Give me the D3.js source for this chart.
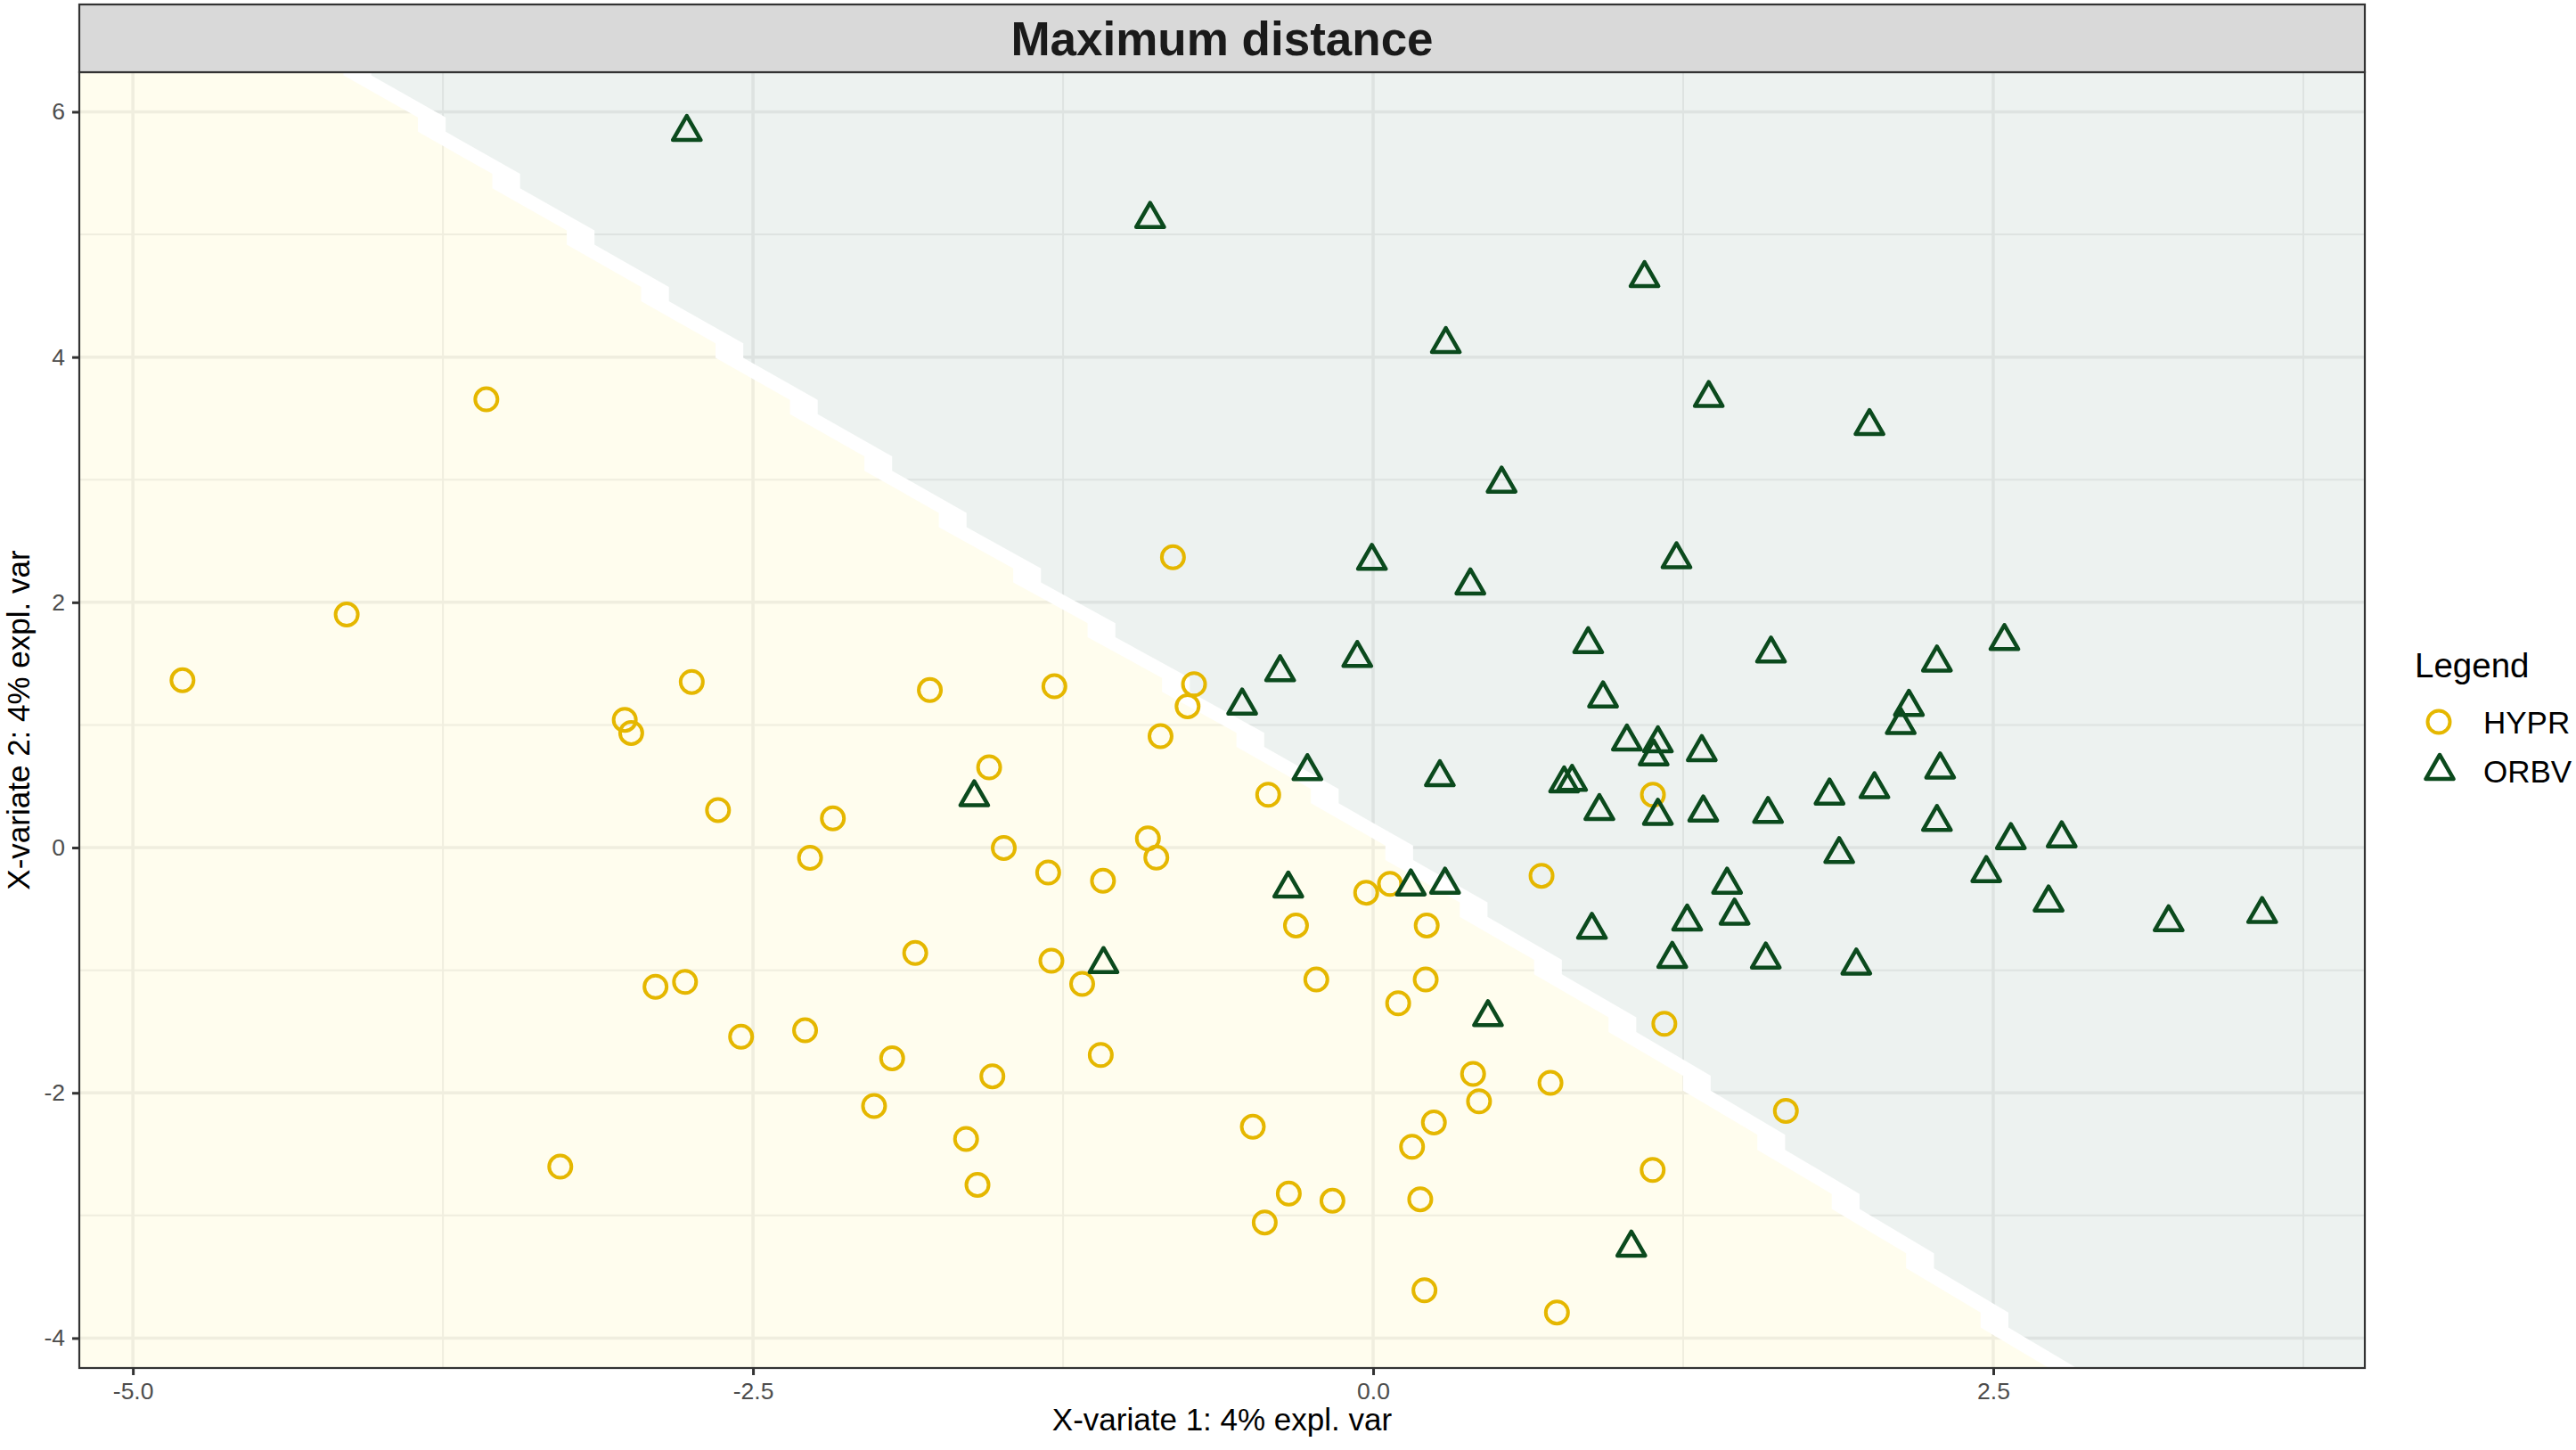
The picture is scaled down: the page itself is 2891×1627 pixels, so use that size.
<!DOCTYPE html>
<html lang="en">
<head>
<meta charset="UTF-8">
<title>Maximum distance</title>
<style>
    body { margin: 0; background: white; }
    svg { display: block; font-family: "Liberation Sans", Arial, Helvetica, sans-serif; }
</style>
<script src="https://d3js.org/d3.v7.min.js"></script>
</head>
<body>
<div id="chart"></div>
<script>
// ---- data ----
const hyprX = [-4.800, -4.138, -3.575, -3.277, -3.017, -2.991, -2.747, -2.893, -2.774, -2.641,
               -2.548, -2.290, -2.270, -2.178, -2.012, -1.939, -1.846, -1.787, -1.641, -1.595,
               -1.548, -1.535, -1.489, -1.297, -1.310, -1.285, -1.173, -1.098, -1.089, -0.908,
               -0.874, -0.857, -0.807, -0.748, -0.722, -0.485, -0.437, -0.423, -0.340, -0.311,
               -0.229, -0.164, -0.028, 0.068, 0.101, 0.157, 0.190, 0.207, 0.216, 0.212,
               0.245, 0.403, 0.427, 0.679, 0.715, 0.741, 1.128, 1.127, 1.174, 1.664];
const hyprY = [1.364, 1.900, 3.655, -2.602, 1.042, 0.935, 1.351, -1.135, -1.095, 0.306,
               -1.543, -1.490, -0.083, 0.238, -2.107, -1.718, -0.860, 1.284, -2.376, -2.750,
               0.654, -1.865, -0.003, -0.923, -0.204, 1.315, -1.112, -1.691, -0.271, 0.075,
               -0.082, 0.908, 2.368, 1.153, 1.332, -2.277, -3.057, 0.431, -2.822, -0.635,
               -1.076, -2.880, -0.368, -0.296, -1.270, -2.440, -2.868, -3.610, -0.635, -1.076,
               -2.241, -1.846, -2.069, -0.230, -1.919, -3.791, 0.431, -2.629, -1.437, -2.147];

const orbvX = [-2.767, -1.608, -1.087, -0.899, -0.528, -0.375, -0.342, -0.265, -0.064, -0.005,
               0.152, 0.269, 0.290, 0.293, 0.392, 0.463, 0.518, 0.770, 0.802, 0.867,
               0.882, 0.927, 0.912, 1.023, 1.041, 1.094, 1.131, 1.148, 1.148, 1.206,
               1.223, 1.266, 1.325, 1.331, 1.353, 1.427, 1.457, 1.583, 1.592, 1.604,
               1.840, 1.879, 1.948, 2.001, 2.021, 2.127, 2.160, 2.273, 2.273, 2.286,
               2.472, 2.545, 2.571, 2.723, 2.776, 3.207, 3.584];
const orbvY = [5.836, 0.410, -0.950, 5.126, 1.158, 1.430, -0.334, 0.623, 1.546, 2.338,
               -0.317, 0.574, -0.303, 4.106, 2.137, -1.383, 2.968, 0.523, 0.536, 1.659,
               -0.671, 1.216, 0.298, 0.865, -3.262, 4.644, 0.743, 0.850, 0.259, -0.908,
               2.351, -0.603, 0.778, 0.286, 3.666, -0.303, -0.555, -0.913, 0.274, 1.582,
               0.424, -0.053, -0.962, 3.437, 0.476, 0.999, 1.147, 1.509, 0.209, 0.637,
               -0.208, 1.684, 0.061, -0.448, 0.075, -0.609, -0.542];

// centre line of the predicted-class boundary (white band)
const boundaryX = [-4.073, -1.584, -0.460, 0.356, 1.146, 2.762];
const boundaryY = [6.323, 2.500, 0.828, -0.429, -1.664, -4.266];

const xDomain = [-5.216, 3.998];
const yDomain = [-4.244, 6.323];
const xTicks = [-5, -2.5, 0, 2.5];
const yTicks = [-4, -2, 0, 2, 4, 6];
const xMinor = [-3.75, -1.25, 1.25, 3.75];
const yMinor = [-3, -1, 1, 3, 5];

const groups = ["HYPR", "ORBV"];
const groupColors = ["#E5B700", "#0B4A1D"];

// ---- layout ----
const W = 2891, H = 1627;
const panel = { left: 89, right: 2654, top: 81, bottom: 1535 };
const stripTop = 5;

const svg = d3.select("#chart").append("svg")
    .attr("width", W)
    .attr("height", H);

const x = d3.scaleLinear().domain(xDomain).range([panel.left, panel.right]);
const y = d3.scaleLinear().domain(yDomain).range([panel.bottom, panel.top]);

svg.append("defs").append("clipPath").attr("id", "panelClip")
    .append("rect")
    .attr("x", panel.left).attr("y", panel.top)
    .attr("width", panel.right - panel.left)
    .attr("height", panel.bottom - panel.top);

const plot = svg.append("g").attr("clip-path", "url(#panelClip)");

// grid
plot.append("g").selectAll("line.vmin").data(xMinor).enter().append("line")
    .attr("x1", d => x(d)).attr("x2", d => x(d))
    .attr("y1", panel.top).attr("y2", panel.bottom)
    .attr("stroke", "#EBEBEB").attr("stroke-width", 2);
plot.append("g").selectAll("line.hmin").data(yMinor).enter().append("line")
    .attr("y1", d => y(d)).attr("y2", d => y(d))
    .attr("x1", panel.left).attr("x2", panel.right)
    .attr("stroke", "#EBEBEB").attr("stroke-width", 2);
plot.append("g").selectAll("line.vmaj").data(xTicks).enter().append("line")
    .attr("x1", d => x(d)).attr("x2", d => x(d))
    .attr("y1", panel.top).attr("y2", panel.bottom)
    .attr("stroke", "#EBEBEB").attr("stroke-width", 3.5);
plot.append("g").selectAll("line.hmaj").data(yTicks).enter().append("line")
    .attr("y1", d => y(d)).attr("y2", d => y(d))
    .attr("x1", panel.left).attr("x2", panel.right)
    .attr("stroke", "#EBEBEB").attr("stroke-width", 3.5);

// background prediction areas, stair-stepped like the grid they come from
const f = d3.scaleLinear().domain(boundaryX).range(boundaryY);
const stepW = 0.3, stepPhase = -3.795, stepRatio = 0.746, halfGap = 0.056;

function stairs(shift) {
    const pts = [];
    const k0 = Math.floor((xDomain[0] - 1 - stepPhase) / stepW);
    const k1 = Math.ceil((xDomain[1] + 1 - stepPhase) / stepW);
    for (let k = k0; k < k1; k++) {
        const a = stepPhase + k * stepW, b = a + stepW;
        const fa = f(a), fb = f(b);
        const off = -(1 - stepRatio) * (fa - fb) / 2;
        pts.push([a + shift, fa + off]);
        pts.push([b + shift, fa + stepRatio * (fb - fa) + off]);
    }
    return pts;
}

const yellowEdge = stairs(-halfGap);
const grayEdge = stairs(halfGap);
const lowY = yDomain[0] - 2, highY = yDomain[1] + 2;

const yellowPoly = yellowEdge.concat([[yellowEdge[yellowEdge.length - 1][0], lowY], [yellowEdge[0][0], lowY]]);
const grayPoly = grayEdge.concat([[grayEdge[grayEdge.length - 1][0], highY], [grayEdge[0][0], highY]]);
const bandPoly = yellowEdge.concat(grayEdge.slice().reverse());

const toPath = pts => "M" + pts.map(p => x(p[0]) + "," + y(p[1])).join("L") + "Z";

plot.append("path").attr("d", toPath(bandPoly)).attr("fill", "white");
plot.append("path").attr("d", toPath(yellowPoly)).attr("fill", "#FFF7BB").attr("fill-opacity", 0.25);
plot.append("path").attr("d", toPath(grayPoly)).attr("fill", "#B7CBC3").attr("fill-opacity", 0.25);

// panel border
svg.append("rect")
    .attr("x", panel.left).attr("y", panel.top)
    .attr("width", panel.right - panel.left)
    .attr("height", panel.bottom - panel.top)
    .attr("fill", "none").attr("stroke", "#333333").attr("stroke-width", 2.2);

// points
const triangle = d3.symbol().type(d3.symbolTriangle).size(421);

svg.append("g").selectAll("circle").data(hyprX).enter().append("circle")
    .attr("cx", d => x(d))
    .attr("cy", (d, i) => y(hyprY[i]))
    .attr("r", 12.5)
    .attr("fill", "none")
    .attr("stroke", groupColors[0])
    .attr("stroke-width", 4);

svg.append("g").selectAll("path").data(orbvX).enter().append("path")
    .attr("d", triangle)
    .attr("transform", (d, i) => "translate(" + x(d) + "," + y(orbvY[i]) + ")")
    .attr("fill", "none")
    .attr("stroke", groupColors[1])
    .attr("stroke-width", 4.5)
    .attr("stroke-linejoin", "round");

// strip with title
svg.append("rect")
    .attr("x", panel.left).attr("y", stripTop)
    .attr("width", panel.right - panel.left)
    .attr("height", panel.top - stripTop)
    .attr("fill", "#D9D9D9").attr("stroke", "#333333").attr("stroke-width", 2.2);
svg.append("text")
    .attr("x", (panel.left + panel.right) / 2)
    .attr("y", 62)
    .attr("text-anchor", "middle")
    .attr("font-size", 53)
    .attr("font-weight", "bold")
    .attr("fill", "#1A1A1A")
    .text("Maximum distance");

// axes
const fmtX = d => d3.format(".1f")(d).replace("\u2212", "-");
const xAxis = svg.append("g")
    .attr("transform", "translate(0," + panel.bottom + ")")
    .call(d3.axisBottom(x).tickValues(xTicks).tickFormat(fmtX).tickSize(8).tickPadding(8));
const yAxis = svg.append("g")
    .attr("transform", "translate(" + panel.left + ",0)")
    .call(d3.axisLeft(y).tickValues(yTicks).tickFormat(d => String(d)).tickSize(8).tickPadding(8));

[xAxis, yAxis].forEach(ax => {
    ax.select(".domain").remove();
    ax.selectAll(".tick line").attr("stroke", "#333333").attr("stroke-width", 3);
    ax.selectAll(".tick text")
        .attr("fill", "#4D4D4D")
        .attr("font-size", 26.5)
        .attr("font-family", "Liberation Sans, Arial, sans-serif");
});

svg.append("text")
    .attr("x", (panel.left + panel.right) / 2)
    .attr("y", 1605)
    .attr("text-anchor", "middle")
    .attr("font-size", 35)
    .attr("fill", "black")
    .text("X-variate 1: 4% expl. var");

svg.append("text")
    .attr("transform", "translate(33," + (panel.top + panel.bottom) / 2 + ") rotate(-90)")
    .attr("text-anchor", "middle")
    .attr("font-size", 35)
    .attr("fill", "black")
    .text("X-variate 2: 4% expl. var");

// legend
const legend = svg.append("g");
legend.append("text")
    .attr("x", 2710).attr("y", 760)
    .attr("font-size", 38.5)
    .attr("fill", "black")
    .text("Legend");

const legendY = d3.scalePoint().domain(groups).range([810, 865]);
legend.append("circle")
    .attr("cx", 2737).attr("cy", legendY("HYPR"))
    .attr("r", 12.5)
    .attr("fill", "none").attr("stroke", groupColors[0]).attr("stroke-width", 4);
legend.append("path")
    .attr("d", triangle)
    .attr("transform", "translate(2738," + legendY("ORBV") + ")")
    .attr("fill", "none").attr("stroke", groupColors[1]).attr("stroke-width", 4.5)
    .attr("stroke-linejoin", "round");
legend.selectAll("text.item").data(groups).enter().append("text")
    .attr("class", "item")
    .attr("x", 2787)
    .attr("y", d => legendY(d) + 13)
    .attr("font-size", 35)
    .attr("fill", "black")
    .text(d => d);
</script>
</body>
</html>
